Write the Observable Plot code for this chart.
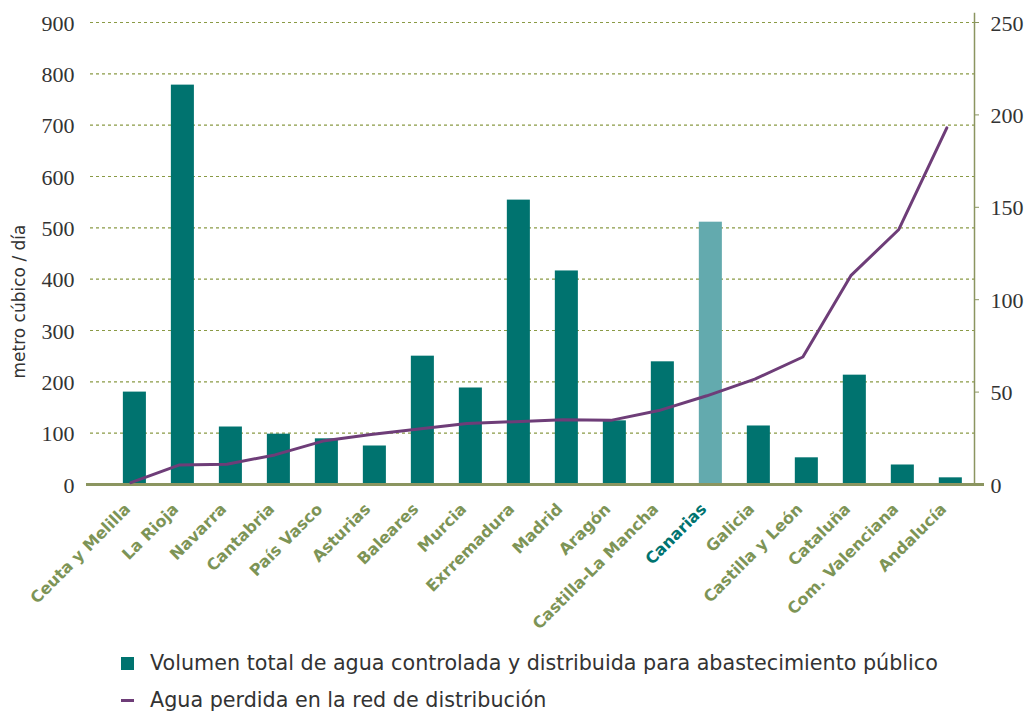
<!DOCTYPE html>
<html><head><meta charset="utf-8">
<script src="https://cdn.jsdelivr.net/npm/d3@7"></script>
<script src="https://cdn.jsdelivr.net/npm/@observablehq/plot@0.6"></script>
<style>
body{margin:0;background:#fff;}
#chart{position:relative;width:1028px;height:714px;}
.leg{position:absolute;left:121px;font-family:"DejaVu Sans";font-size:20.7px;color:#333;display:flex;align-items:center;white-space:nowrap;}
.sw{display:inline-block;width:13px;height:13px;margin-right:16px;}
.ln{display:inline-block;width:13px;height:3px;margin-right:16px;}
</style></head><body><div id="chart"></div>
<script>
const categories = ["Ceuta y Melilla","La Rioja","Navarra","Cantabria","País Vasco","Asturias","Baleares","Murcia","Exrremadura","Madrid","Aragón","Castilla-La Mancha","Canarias","Galicia","Castilla y León","Cataluña","Com. Valenciana","Andalucía"];
const volumes = [180,778,112,98,89,75,250,188,554,416,124,239,511,114,52,213,38,13];
const losses = [1,10.5,11,16,23.5,27,30,33,34,35,34.7,40,48,57,69,113,138,193];
const leftTicks = [0,100,200,300,400,500,600,700,800,900];
const rightTicks = [0,50,100,150,200,250];
const highlight = "Canarias";
const axisTitle = "metro cúbico / día";
const seriesNames = ["Volumen total de agua controlada y distribuida para abastecimiento público","Agua perdida en la red de distribución"];

const teal = "#00736f", tealLight = "#63aaae", purple = "#6e3d78", olive = "#8b9560", labelOlive = "#7d9456";
const k = 900 / 250;
const data = categories.map((c, i) => ({cat: c, vol: volumes[i], loss: losses[i] * k}));
const serif = "Liberation Serif";

const chart = Plot.plot({
  width: 1028, height: 640,
  marginLeft: 90, marginRight: 54, marginTop: 22, marginBottom: 156,
  style: {background: "#fff"},
  color: {type: "identity"},
  x: {domain: categories, padding: 0.52, paddingOuter: 0.469, align: 0.73, round: false, axis: null},
  y: {domain: [0, 900], axis: null},
  marks: [
    Plot.ruleY(leftTicks.filter(d => d > 0), {stroke: "#8a9a45", strokeDasharray: "3,3", strokeWidth: 1.2}),
    Plot.frame({anchor: "right", stroke: olive, strokeWidth: 1.5, insetTop: -9}),
    Plot.barY(data, {x: "cat", y: "vol", fill: d => d.cat === highlight ? tealLight : teal}),
    Plot.ruleY([0], {stroke: olive, strokeWidth: 3, insetLeft: -4, insetRight: -10}),
    Plot.lineY(data, {x: "cat", y: "loss", stroke: purple, strokeWidth: 3, dx: -4}),
    Plot.axisY(rightTicks.map(d => d * k), {anchor: "right", tickSize: 4, stroke: olive, label: null, tickFormat: () => ""}),
    Plot.text(leftTicks, {y: d => d, text: d => String(d), frameAnchor: "left", textAnchor: "end", dx: -16, dy: 1,
      fontFamily: serif, fontSize: 22, fill: "#333"}),
    Plot.text(rightTicks, {y: d => d * k, text: d => String(d), frameAnchor: "right", textAnchor: "start", dx: 16, dy: 1,
      fontFamily: serif, fontSize: 22, fill: "#333"}),
    Plot.text(categories, {x: d => d, y: () => 0, text: d => d, rotate: -45, textAnchor: "end", dy: 22, dx: -7,
      fill: d => d === highlight ? teal : labelOlive, fontFamily: "DejaVu Sans", fontWeight: "bold", fontSize: 16}),
    Plot.text([axisTitle], {frameAnchor: "bottom-left", rotate: -90, textAnchor: "start", dx: -66, dy: -106, fontFamily: "DejaVu Sans", fontSize: 17, fill: "#333"})
  ]
});
const root = document.getElementById("chart");
root.appendChild(chart);
const l1 = document.createElement("div");
l1.className = "leg"; l1.style.top = "651px";
l1.innerHTML = `<span class="sw" style="background:${teal}"></span><span>${seriesNames[0]}</span>`;
const l2 = document.createElement("div");
l2.className = "leg"; l2.style.top = "688px";
l2.innerHTML = `<span class="ln" style="background:${purple}"></span><span>${seriesNames[1]}</span>`;
root.appendChild(l1); root.appendChild(l2);
</script></body></html>
